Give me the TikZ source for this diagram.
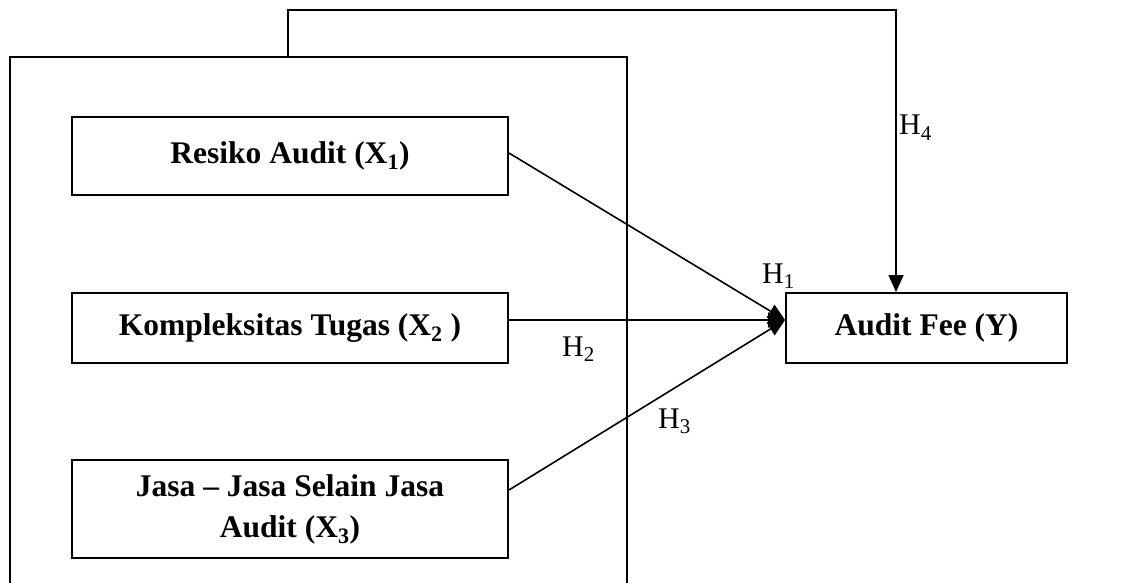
\documentclass[tikz,border=0pt]{standalone}
\usepackage{fontspec}
\setmainfont{Liberation Serif}
\usetikzlibrary{arrows.meta}
\tikzset{
  box/.style={draw, line width=1.9pt, font=\fontsize{31.5}{41}\selectfont\bfseries, align=center, inner sep=0pt},
  conn/.style={line width=1.7pt},
  arr/.style={line width=1.6pt, -{Triangle[length=17pt,width=15pt]}},
  hlab/.style={font=\fontsize{30}{36}\selectfont, anchor=base west, inner sep=0pt}
}
\begin{document}
\begin{tikzpicture}[x=1pt,y=-1pt]
\useasboundingbox[fill=white] (0,0) rectangle (1126,583);
% outer frame
\coordinate (ob) at (10,583);
\coordinate (otl) at (10,57);
\coordinate (otr) at (627,57);
\coordinate (obr) at (627,583);
\draw[conn] (ob) -- (otl) -- (otr) -- (obr);
% boxes
\node[box, minimum width=436pt, minimum height=78pt] (x1) at (290,156) {Resiko Audit (X\textsubscript{1})};
\node[box, minimum width=436pt, minimum height=70pt] (x2) at (290,328) {Kompleksitas Tugas (X\textsubscript{2} )};
\node[box, minimum width=436pt, minimum height=98pt] (x3) at (290,509) {Jasa -- Jasa Selain Jasa\\Audit (X\textsubscript{3})};
\node[box, minimum width=281pt, minimum height=70pt] (y) at (926.5,328) {Audit Fee (Y)};
% connectors
\coordinate (tip) at ([yshift=8pt]y.west);
\draw[arr] ([yshift=3pt]x1.east) -- (tip);
\draw[arr] ([yshift=8pt]x2.east) -- (tip);
\draw[arr] ([yshift=19pt]x3.east) -- (tip);
\coordinate (h4start) at (288,57);
\coordinate (h4corner) at (896,10);
\draw[arr] (h4start) |- (h4corner) -- (h4corner |- y.north);
% labels
\node[hlab] (h1) at (762,283) {H\textsubscript{1}};
\node[hlab] (h2) at (562,356) {H\textsubscript{2}};
\node[hlab] (h3) at (658,428) {H\textsubscript{3}};
\node[hlab] (h4) at (899,135) {H\textsubscript{4}};
\end{tikzpicture}
\end{document}
